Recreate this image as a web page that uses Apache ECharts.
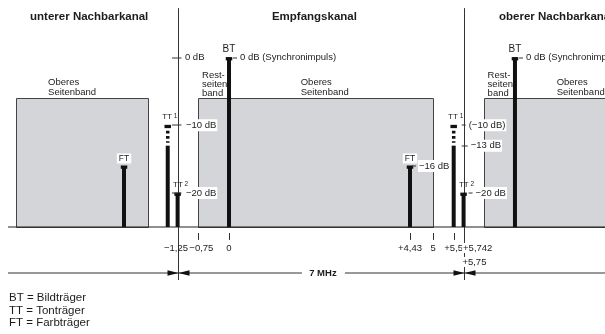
<!DOCTYPE html>
<html><head><meta charset="utf-8">
<script src="https://cdn.jsdelivr.net/npm/echarts@6/dist/echarts.min.js"></script>
<style>html,body{margin:0;padding:0;background:#fff}#c{width:605px;height:334px}</style>
</head><body><div id="c"></div>
<script>
// ---------- data ----------
const channelTitles = ['unterer Nachbarkanal', 'Empfangskanal', 'oberer Nachbarkanal'];
const sidebandStartMHz = [-5.22, -0.75, 6.25];
const sidebandEndMHz = [-2, 5, 9.4];
const sidebandTopDb = -6;
const floorDb = -25;
const carrierMHz = [-2.57, -1.5, -1.258, 0, 4.43, 5.5, 5.742, 7];
const carrierDb = [-16, -10, -20, 0, -16, -10, -20, 0];
const carrierSolidDb = [-16, -13, -20, 0, -16, -13, -20, 0];
const carrierName = ['FT', 'TT 1', 'TT 2', 'BT', 'FT', 'TT 1', 'TT 2', 'BT'];
const carrierLevelText = ['', '', '', '0 dB (Synchronimpuls)', '−16 dB', '(−10 dB)', '−20 dB', '0 dB (Synchronimpuls)'];
const carrierSolidText = ['', '', '', '', '', '−13 dB', '', ''];
const channelEdgeMHz = [-1.25, 5.75];
const channelWidthText = '7 MHz';
const axisDbTicks = [0, -10, -20];
const axisDbLabels = ['0 dB', '−10 dB', '−20 dB'];
const tickMarkMHz = [-0.75, 0, 4.43, 5, 5.5, 5.742];
const tickLabelMHz = [-1.25, -0.75, 0, 4.43, 5, 5.5, 5.742, 5.75];
const tickLabelText = ['−1,25', '−0,75', '0', '+4,43', '5', '+5,5', '+5,742', '+5,75'];
const legendLines = ['BT = Bildträger', 'TT = Tonträger', 'FT = Farbträger'];

// ---------- layout (positions / styles) ----------
const xMin = -5.606, xMax = 9.204, yMin = -40.8, yMax = 8.5;
const titleMHz = [-4.87, 1.05, 6.61], titleDb = 6;
const obersLabelMHz = [-4.43, 1.755, 8.02];
const restLabelMHz = [-0.66, 6.33];
const levelDx = [0, 0, 0, 10, 8, 14, 11, 10];
const nameDx = [0, 2, 3, 0, 0, 2, 3, 0];
const tickLabelDx = [-2, 3, 0, 0, 0, 0, -1.5, -2.5];
const tickLabelAlign = ['center', 'center', 'center', 'center', 'center', 'center', 'left', 'left'];
const tickLabelRow = [0, 0, 0, 0, 0, 0, 0, 1];
const edgeTopDb = 7.3, edgeBottomDb = -32.83, dimDb = -31.8;
const FONT = '"Liberation Sans", Arial, Helvetica, sans-serif';
const INK = '#1c1c1c';
const LINE = '#333';
const GRAY = '#d3d5d8';

function textEl(x, y, text, o) {
  o = o || {};
  const st = {
    text: text, fill: INK, fontFamily: FONT, fontSize: o.size || 9.5,
    fontWeight: o.weight || 'normal',
    align: o.align || 'left', verticalAlign: o.valign || 'middle',
    textAlign: o.align || 'left', textVerticalAlign: o.valign || 'middle'
  };
  if (o.bg) { st.backgroundColor = o.bg; st.padding = o.pad || [0, 1]; }
  if (o.lh) st.lineHeight = o.lh;
  if (o.rich) st.rich = o.rich;
  return { type: 'text', x: x, y: y, style: st };
}
function lineEl(x1, y1, x2, y2, w, color) {
  return { type: 'line', shape: { x1: x1, y1: y1, x2: x2, y2: y2 }, style: { stroke: color || LINE, lineWidth: w || 1 } };
}
const crisp = v => Math.round(v) + 0.5;

const chart = echarts.init(document.getElementById('c'), null, { renderer: 'canvas' });

const bandData = sidebandStartMHz.map((s, i) => [s, sidebandEndMHz[i], sidebandTopDb]);
const carrierData = carrierMHz.map((x, i) => [x, carrierDb[i], carrierSolidDb[i], i]);

chart.setOption({
  animation: false,
  grid: { left: 0, right: 0, top: 0, bottom: 0 },
  xAxis: { type: 'value', min: xMin, max: xMax, show: false },
  yAxis: { type: 'value', min: yMin, max: yMax, show: false },
  series: [
    { // sidebands
      type: 'custom', z: 1, data: bandData,
      renderItem: function (params, api) {
        const p0 = api.coord([api.value(0), api.value(2)]);
        const p1 = api.coord([api.value(1), floorDb]);
        return { type: 'rect', shape: { x: crisp(p0[0]), y: crisp(p0[1]), width: Math.round(p1[0] - p0[0]), height: Math.round(p1[1] - p0[1]) },
          style: { fill: GRAY, stroke: '#444', lineWidth: 1 } };
      }
    },
    { // band texts, frame lines
      type: 'custom', z: 2, data: [[0]],
      renderItem: function (params, api) {
        const c = (x, y) => api.coord([x, y]);
        const els = [];
        const topPx = c(0, sidebandTopDb)[1];
        obersLabelMHz.forEach(m => els.push(textEl(c(m, 0)[0], topPx - 0.5, 'Oberes\nSeitenband', { valign: 'bottom', lh: 10.5 })));
        restLabelMHz.forEach(m => els.push(textEl(c(m, 0)[0], topPx - 0.5, 'Rest-\nseiten\nband', { valign: 'bottom', lh: 9 })));
        const fy = c(0, floorDb)[1];
        els.push(lineEl(8, crisp(fy) - 0.5, 605, crisp(fy) - 0.5, 1.2, '#222'));
        channelEdgeMHz.forEach(m => {
          const a = c(m, edgeTopDb), b = c(m, edgeBottomDb);
          els.push(lineEl(crisp(a[0]), a[1], crisp(a[0]), b[1], 1, LINE));
        });
        return { type: 'group', children: els };
      }
    },
    { // carriers
      type: 'custom', z: 3, data: carrierData,
      renderItem: function (params, api) {
        const x = api.value(0), top = api.value(1), solid = api.value(2);
        const pb = api.coord([x, floorDb]), pt = api.coord([x, top]), ps = api.coord([x, solid]);
        const w = 4;
        const ch = [];
        ch.push({ type: 'rect', shape: { x: pb[0] - w / 2, y: ps[1], width: w, height: pb[1] - ps[1] }, style: { fill: '#111' } });
        if (solid !== top) {
          ch.push({ type: 'line', shape: { x1: pb[0], y1: pt[1] + 5.5, x2: pb[0], y2: ps[1] - 3 },
            style: { stroke: '#111', lineWidth: w - 0.5, lineDash: [2.7, 2.5] } });
        }
        ch.push({ type: 'rect', shape: { x: pt[0] - 3.25, y: pt[1] - 0.5, width: 6.5, height: 3.3 }, style: { fill: '#111' } });
        return { type: 'group', children: ch };
      }
    },
    { // labels
      type: 'custom', z: 4, data: [[0]],
      renderItem: function (params, api) {
        const c = (x, y) => api.coord([x, y]);
        const els = [];
        channelTitles.forEach((t, i) => {
          const p = c(titleMHz[i], titleDb);
          els.push(textEl(p[0], p[1], t, { size: 11.5, weight: 'bold' }));
        });
        axisDbTicks.forEach((d, i) => {
          const p = c(channelEdgeMHz[0], d);
          els.push(lineEl(p[0] - 6, crisp(p[1]) - 0.5, p[0] + 3.5, crisp(p[1]) - 0.5, 1, LINE));
          els.push(textEl(p[0] + 7, p[1], axisDbLabels[i], { bg: i > 0 ? '#fff' : null, pad: [1, 1] }));
        });
        carrierMHz.forEach((m, i) => {
          const pt = c(m, carrierDb[i]);
          const n = carrierName[i];
          if (n === 'BT') {
            els.push(textEl(pt[0], pt[1] - 8, n, { size: 10, align: 'center' }));
          } else if (n === 'FT') {
            els.push(textEl(pt[0], pt[1] - 7.5, n, { size: 8.5, align: 'center', bg: '#fff', pad: [1, 2, 0, 2] }));
          } else {
            const parts = n.split(' ');
            els.push(textEl(pt[0] + nameDx[i], pt[1] - 8.5, '{a|' + parts[0] + '}{b| ' + parts[1] + '}', {
              size: 8, align: 'center',
              rich: { a: { fontSize: 8, fontFamily: FONT, fill: INK }, b: { fontSize: 6.5, fontFamily: FONT, fill: INK, verticalAlign: 'top' } }
            }));
          }
          if (carrierLevelText[i]) {
            const lx = pt[0] + levelDx[i];
            els.push(lineEl(lx - 6, crisp(pt[1]) - 0.5, lx - 2, crisp(pt[1]) - 0.5, 1, LINE));
            els.push(textEl(lx, pt[1], carrierLevelText[i], { bg: '#fff', pad: [1, 1] }));
          }
          if (carrierSolidText[i]) {
            const ps = c(m, carrierSolidDb[i]);
            const lx = ps[0] + levelDx[i] + 2;
            els.push(lineEl(lx - 8, crisp(ps[1]) - 0.5, lx - 2, crisp(ps[1]) - 0.5, 1, LINE));
            els.push(textEl(lx, ps[1], carrierSolidText[i], { bg: '#fff', pad: [1, 1] }));
          }
        });
        const fy = c(0, floorDb)[1];
        tickMarkMHz.forEach(m => {
          const x = crisp(c(m, 0)[0]);
          els.push(lineEl(x, fy + 6, x, fy + 13, 1, LINE));
        });
        tickLabelMHz.forEach((m, i) => {
          const x = c(m, 0)[0] + tickLabelDx[i];
          const y = fy + 21 + tickLabelRow[i] * 14;
          const isLeft = tickLabelAlign[i] === 'left';
          els.push(textEl(x, y, tickLabelText[i], { align: tickLabelAlign[i], bg: isLeft ? '#fff' : null, pad: [0, 1] }));
        });
        const a = c(channelEdgeMHz[0], dimDb), b = c(channelEdgeMHz[1], dimDb);
        const dy = crisp(a[1]) - 0.5;
        const mid = (a[0] + b[0]) / 2 + 2;
        els.push(lineEl(8, dy, mid - 21, dy, 1, LINE));
        els.push(lineEl(mid + 22, dy, 605, dy, 1, LINE));
        els.push(textEl(mid, dy, channelWidthText, { align: 'center', weight: 'bold', size: 9.5 }));
        [a[0], b[0]].forEach(ex => {
          const x = crisp(ex);
          els.push({ type: 'polygon', shape: { points: [[x - 11, dy - 2.7], [x, dy], [x - 11, dy + 2.7]] }, style: { fill: '#111' } });
          els.push({ type: 'polygon', shape: { points: [[x + 11, dy - 2.7], [x, dy], [x + 11, dy + 2.7]] }, style: { fill: '#111' } });
        });
        return { type: 'group', children: els };
      }
    }
  ],
  graphic: legendLines.map((t, i) => ({
    type: 'text', left: 9, top: 292 + i * 12.5,
    style: { text: t, fill: INK, font: '11.5px ' + FONT }
  }))
});
</script>
</body></html>
